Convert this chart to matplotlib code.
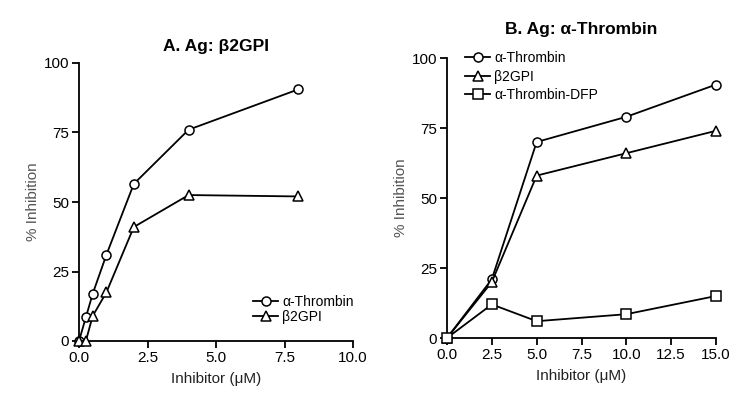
import matplotlib
matplotlib.use("Agg")
import matplotlib.pyplot as plt

plt.rcParams['font.family'] = ['Liberation Sans', 'DejaVu Sans']

# Panel A: Ag = beta2GPI
a_x = [0, 0.25, 0.5, 1, 2, 4, 8]
a_thrombin = [0, 8.5, 17, 31, 56.5, 76, 90.5]
a_b2gpi = [0, 0, 9, 17.5, 41, 52.5, 52]

# Panel B: Ag = alpha-Thrombin
b_x = [0, 2.5, 5, 10, 15]
b_thrombin = [0, 21, 70, 79, 90.5]
b_b2gpi = [0, 20, 58, 66, 74]
b_dfp = [0, 12, 6, 8.5, 15]

a_xticks = [0.0, 2.5, 5.0, 7.5, 10.0]
b_xticks = [0.0, 2.5, 5.0, 7.5, 10.0, 12.5, 15.0]
yticks = [0, 25, 50, 75, 100]

fig = plt.figure(figsize=(7.5, 4.09), dpi=100)
axA = fig.add_axes([79/750, 1-341/409, 274/750, 278/409])
axB = fig.add_axes([447/750, 1-338/409, 269/750, 280/409])

lw = 1.3
ms = 6.5
style = dict(color='black', lw=lw, ms=ms, mfc='white', mec='black', mew=1.1, clip_on=False, zorder=3)

axA.plot(a_x, a_thrombin, marker='o', label='α-Thrombin', **style)
axA.plot(a_x, a_b2gpi, marker='^', label='β2GPI', **style)
axB.plot(b_x, b_thrombin, marker='o', label='α-Thrombin', **style)
axB.plot(b_x, b_b2gpi, marker='^', label='β2GPI', **style)
axB.plot(b_x, b_dfp, marker='s', label='α-Thrombin-DFP', **style)

for ax, xt, xl in [(axA, a_xticks, (0, 10)), (axB, b_xticks, (0, 15))]:
    ax.set_xlim(*xl)
    ax.set_ylim(0, 100)
    ax.set_xticks(xt)
    ax.set_xticklabels([f'{v:.1f}' for v in xt])
    ax.set_yticks(yticks)
    ax.spines['top'].set_visible(False)
    ax.spines['right'].set_visible(False)
    for s in ['left', 'bottom']:
        ax.spines[s].set_linewidth(1.3)
    ax.tick_params(labelsize=11, width=1.3, length=5, colors='black', pad=2)
    ax.set_ylabel('% Inhibition', fontsize=11, color='#555555', labelpad=3)
    ax.set_xlabel('Inhibitor (μM)', fontsize=11, color='#222222', labelpad=5)

axA.set_title('A. Ag: β2GPI', fontsize=12.5, fontweight='bold', pad=9)
axB.set_title('B. Ag: α-Thrombin', fontsize=12.5, fontweight='bold', pad=17)

legkw = dict(frameon=False, fontsize=10, handlelength=1.8, handletextpad=0.3,
             borderpad=0, borderaxespad=0)
axA.legend(loc='upper left', bbox_to_anchor=((253-79)/274, (341-295)/278),
           labelspacing=0.08, **legkw)
axB.legend(loc='upper left', bbox_to_anchor=((465-447)/269, (338-51)/280),
           labelspacing=0.33, **legkw)

fig.savefig('out.png', dpi=100)
